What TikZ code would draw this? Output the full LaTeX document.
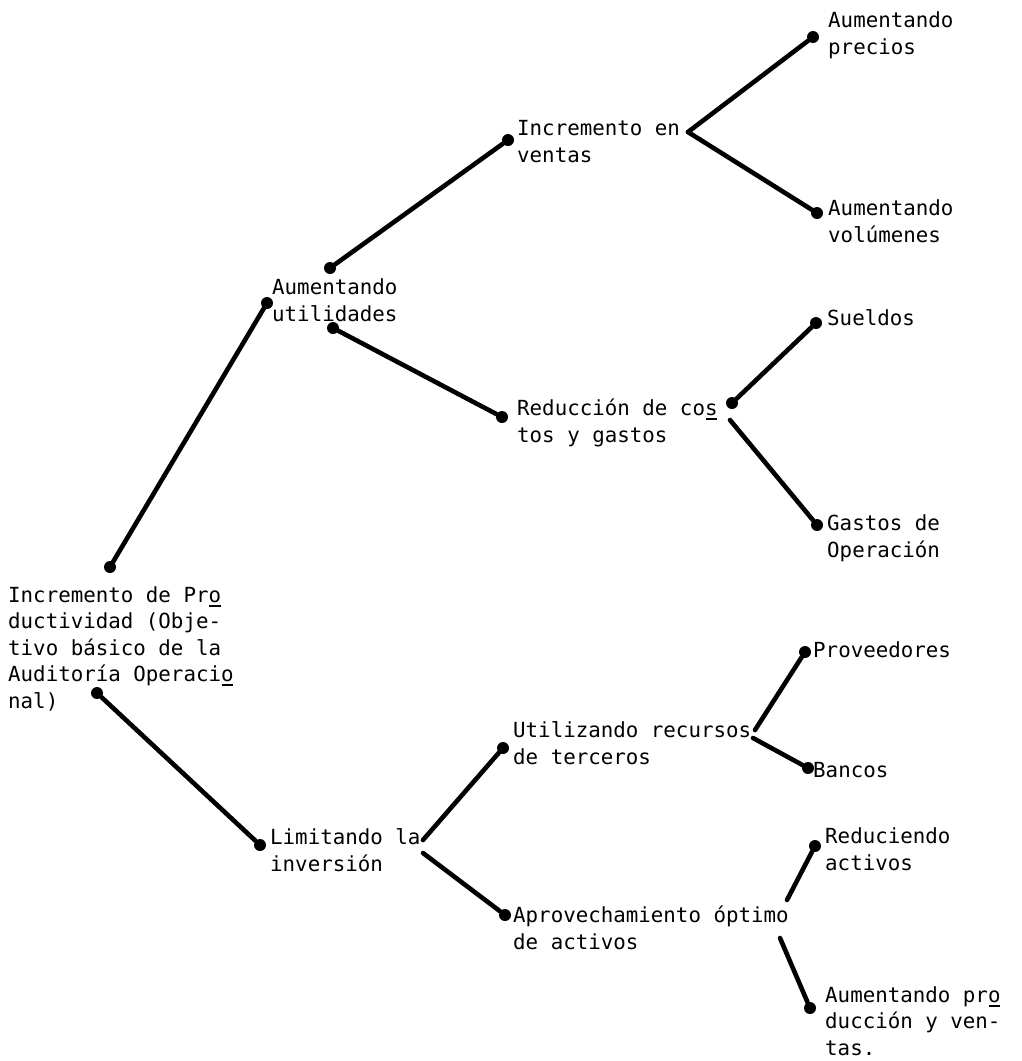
\documentclass[tikz,border=0pt]{standalone}
\usepackage{fontspec}
\newfontfamily\twfont{DejaVu Sans Mono}
% underlined letter, typewriter style (marks a split syllable)
\newcommand\usy[1]{\leavevmode\rlap{\hspace{0.03em}\rule[-0.22em]{0.55em}{0.08em}}#1}
\begin{document}
\begin{tikzpicture}[x=1pt,y=-1pt,
  label/.style={anchor=base west,inner sep=0pt,align=left,
    font=\twfont\fontsize{20.8pt}{26.5pt}\selectfont},
  dot/.style={circle,fill=black,inner sep=0pt,minimum size=12pt},
  branch/.style={line width=4.6pt,line cap=round}]
\useasboundingbox (0,0) rectangle (1022,1061);

% ---- texts (placed by the baseline of their last line) ----
\node[label] (root) at (8,708) {Incremento de Pr\usy{o}\\ductividad (Obje-\\tivo básico de la\\Auditoría Operaci\usy{o}\\nal)};
\node[label] (util) at (272,321) {Aumentando\\utilidades};
\node[label] (lim)  at (270,871) {Limitando la\\inversión};
\node[label] (inc)  at (517,162) {Incremento en\\ventas};
\node[label] (red)  at (517,442) {Reducción de co\usy{s}\\tos y gastos};
\node[label] (uti)  at (513,764) {Utilizando recursos\\de terceros};
\node[label] (apr)  at (513,949) {Aprovechamiento óptimo\\de activos};
\node[label] (pre)  at (828,54)  {Aumentando\\precios};
\node[label] (vol)  at (828,242) {Aumentando\\volúmenes};
\node[label] (sue)  at (827,325) {Sueldos};
\node[label] (gas)  at (827,557) {Gastos de\\Operación};
\node[label] (prov) at (813,657) {Proveedores};
\node[label] (ban)  at (813,777) {Bancos};
\node[label] (reda) at (825,870) {Reduciendo\\activos};
\node[label] (aum)  at (825,1055) {Aumentando pr\usy{o}\\ducción y ven-\\tas.};

% ---- connector ends ----
\node[dot] (dRootU) at (110,567) {};
\node[dot] (dUtilL) at (267,303) {};
\node[dot] (dRootD) at (97,693) {};
\node[dot] (dLimL)  at (260,845) {};
\node[dot] (dUtilU) at (330,268) {};
\node[dot] (dIncL)  at (508,140) {};
\node[dot] (dUtilD) at (333,328) {};
\node[dot] (dRedL)  at (502,417) {};
\node[dot] (dRedR)  at (732,403) {};
\node[dot] (dPre)   at (813,37)  {};
\node[dot] (dVol)   at (817,213) {};
\node[dot] (dSue)   at (816,323) {};
\node[dot] (dGas)   at (817,525) {};
\node[dot] (dUtiL)  at (503,748) {};
\node[dot] (dAprL)  at (505,915) {};
\node[dot] (dProv)  at (805,652) {};
\node[dot] (dBan)   at (808,768) {};
\node[dot] (dReda)  at (815,846) {};
\node[dot] (dAum)   at (810,1008) {};

\coordinate (cInc)  at (688,132);
\coordinate (cRedD) at (730,420);
\coordinate (cLimU) at (423,840);
\coordinate (cLimD) at (423,853);
\coordinate (cUtiU) at (755,730);
\coordinate (cUtiD) at (753,738);
\coordinate (cAprU) at (787,900);
\coordinate (cAprD) at (780,938);

% ---- branches ----
\draw[branch] (dRootU) -- (dUtilL);
\draw[branch] (dRootD) -- (dLimL);
\draw[branch] (dUtilU) -- (dIncL);
\draw[branch] (dUtilD) -- (dRedL);
\draw[branch] (cInc) -- (dPre);
\draw[branch] (cInc) -- (dVol);
\draw[branch] (dRedR) -- (dSue);
\draw[branch] (cRedD) -- (dGas);
\draw[branch] (cLimU) -- (dUtiL);
\draw[branch] (cLimD) -- (dAprL);
\draw[branch] (cUtiU) -- (dProv);
\draw[branch] (cUtiD) -- (dBan);
\draw[branch] (cAprU) -- (dReda);
\draw[branch] (cAprD) -- (dAum);
\end{tikzpicture}
\end{document}
